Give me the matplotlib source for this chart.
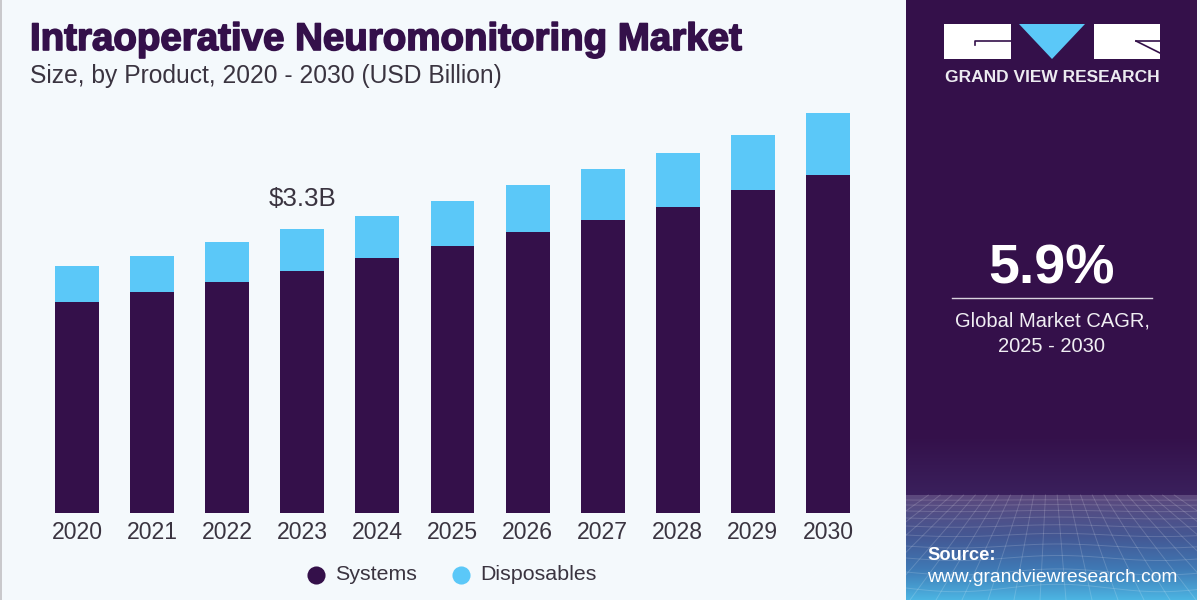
import matplotlib
matplotlib.use('Agg')
import matplotlib.pyplot as plt
import matplotlib.patheffects as pe
from matplotlib.patches import Rectangle, Polygon
import numpy as np

years = ['2020', '2021', '2022', '2023', '2024', '2025', '2026', '2027', '2028', '2029', '2030']
systems = [2.45, 2.57, 2.68, 2.81, 2.96, 3.10, 3.27, 3.40, 3.56, 3.75, 3.93]
disposables = [0.42, 0.42, 0.47, 0.49, 0.49, 0.53, 0.54, 0.60, 0.62, 0.64, 0.72]
label_year = '2023'
label_text = '$3.3B'

PURPLE = '#34104a'
BLUE = '#5bc8f8'
BG = '#f4f9fc'
TEXT = '#3a3440'

plt.rcParams['font.family'] = ['Liberation Sans', 'DejaVu Sans']

fig = plt.figure(figsize=(12, 6), dpi=100, facecolor=BG)

# whole figure in pixel coordinates, for the panel and the header
bg = fig.add_axes([0, 0, 1, 1])
bg.set_xlim(0, 1200)
bg.set_ylim(600, 0)
bg.axis('off')
bg.add_patch(Rectangle((0, 0), 2, 600, color='#c9c9cc', lw=0))
bg.add_patch(Rectangle((906, 0), 294, 600, color=PURPLE, lw=0))

# panel fades slowly, then the lit floor starts at 495
fade = np.linspace(0, 1, 60).reshape(-1, 1, 1)
top = np.array([0x34, 0x10, 0x4a]) / 255
mid = np.array([0x3a, 0x20, 0x5c]) / 255
bg.imshow(top + (mid - top) * fade, extent=(906, 1197, 495, 435), aspect='auto', zorder=1)

stops = np.array([[0x5c, 0x48, 0x7c], [0x44, 0x58, 0x94], [0x3f, 0x78, 0xb4], [0x4c, 0xb4, 0xe2]]) / 255
t = np.linspace(0, 1, 105)
floor = np.stack([np.interp(t, [0, 0.4, 0.7, 1], stops[:, k]) for k in range(3)], axis=1).reshape(-1, 1, 3)
bg.imshow(floor, extent=(906, 1197, 600, 495), aspect='auto', zorder=1)

# mesh on top of the gradient
for yy in [500, 505, 511, 518, 526, 535, 546, 558, 572, 588]:
    wob = 4 * np.sin(np.linspace(0, 9, 40))
    bg.plot(np.linspace(906, 1197, 40), yy + wob * (yy - 495) / 100, color='white', alpha=0.16, lw=0.7, zorder=2)
for x0 in np.arange(780, 1330, 26):
    x1 = 1050 + (x0 - 1050) * 0.45
    bg.plot([x1, x0], [495, 600], color='white', alpha=0.16, lw=0.7, zorder=2)
bg.add_patch(Rectangle((1197, 0), 3, 600, color=BG, lw=0, zorder=3))
bg.set_xlim(0, 1200)
bg.set_ylim(600, 0)

# logo
bg.add_patch(Rectangle((944, 24), 67, 35, color='white', lw=0, zorder=3))
bg.add_patch(Rectangle((1094, 24), 66, 35, color='white', lw=0, zorder=3))
bg.add_patch(Polygon([[1019, 24], [1085, 24], [1052, 59]], color=BLUE, lw=0, zorder=3))
bg.plot([974.5, 974.5, 1011], [45, 41, 41], color=PURPLE, lw=1.2, zorder=4)
bg.plot([1136, 1160], [41, 41], color=PURPLE, lw=1.2, zorder=4)
bg.plot([1136, 1160], [41, 53], color=PURPLE, lw=1.2, zorder=4)
bg.text(1052, 78, 'GRAND VIEW RESEARCH', color='#ecebf0', fontsize=12.5, fontweight='bold',
        ha='center', va='center', zorder=4)

# header
title = bg.text(30, 40, 'Intraoperative Neuromonitoring Market', color=PURPLE, fontsize=27.7,
                fontweight='bold', ha='left', va='center')
title.set_path_effects([pe.withStroke(linewidth=1.2, foreground=PURPLE)])
bg.text(30, 76, 'Size, by Product, 2020 - 2030 (USD Billion)', color=TEXT, fontsize=17.7,
        ha='left', va='center')

# right panel text
bg.text(1052, 269, '5.9%', color='white', fontsize=40, fontweight='bold', ha='center', va='center', zorder=4)
bg.plot([952, 1152], [298, 298], color='#d8d2de', lw=1, zorder=4)
bg.text(1052, 321, 'Global Market CAGR,', color='#f0eef3', fontsize=14.5, ha='center', va='center', zorder=4)
bg.text(1052, 346, '2025 - 2030', color='#f0eef3', fontsize=14.5, ha='center', va='center', zorder=4)
bg.text(927, 555, 'Source:', color='white', fontsize=13.2, fontweight='bold', ha='left', va='center', zorder=4)
bg.text(927, 578, 'www.grandviewresearch.com', color='white', fontsize=13.9, ha='left', va='center', zorder=4)

# chart
ax = fig.add_axes([39.5 / 1200, 1 - 513 / 600, 826 / 1200, 413 / 600])
ax.patch.set_alpha(0)
x = np.arange(len(years))
ax.bar(x, systems, width=0.585, color=PURPLE, label='Systems')
ax.bar(x, disposables, width=0.585, bottom=systems, color=BLUE, label='Disposables')
ax.set_xlim(-0.5, 10.5)
ax.set_ylim(0, 4.8)
ax.set_xticks(x)
ax.set_xticklabels(years, fontsize=16.6, color=TEXT)
ax.tick_params(axis='x', length=0, pad=6)
ax.set_yticks([])
for s in ax.spines.values():
    s.set_visible(False)

i = years.index(label_year)
ax.annotate(label_text, (i, systems[i] + disposables[i]), xytext=(0, 30), textcoords='offset pixels',
            ha='center', va='center', fontsize=18.6, color=TEXT)

# legend
for lx, color, name in [(316, PURPLE, 'Systems'), (461, BLUE, 'Disposables')]:
    bg.scatter([lx], [575], s=170, color=color, lw=0, zorder=4)
    bg.text(lx + 19, 575, name, color=TEXT, fontsize=15.4, ha='left', va='center', zorder=4)

fig.savefig('out.png', dpi=100, facecolor=BG)
